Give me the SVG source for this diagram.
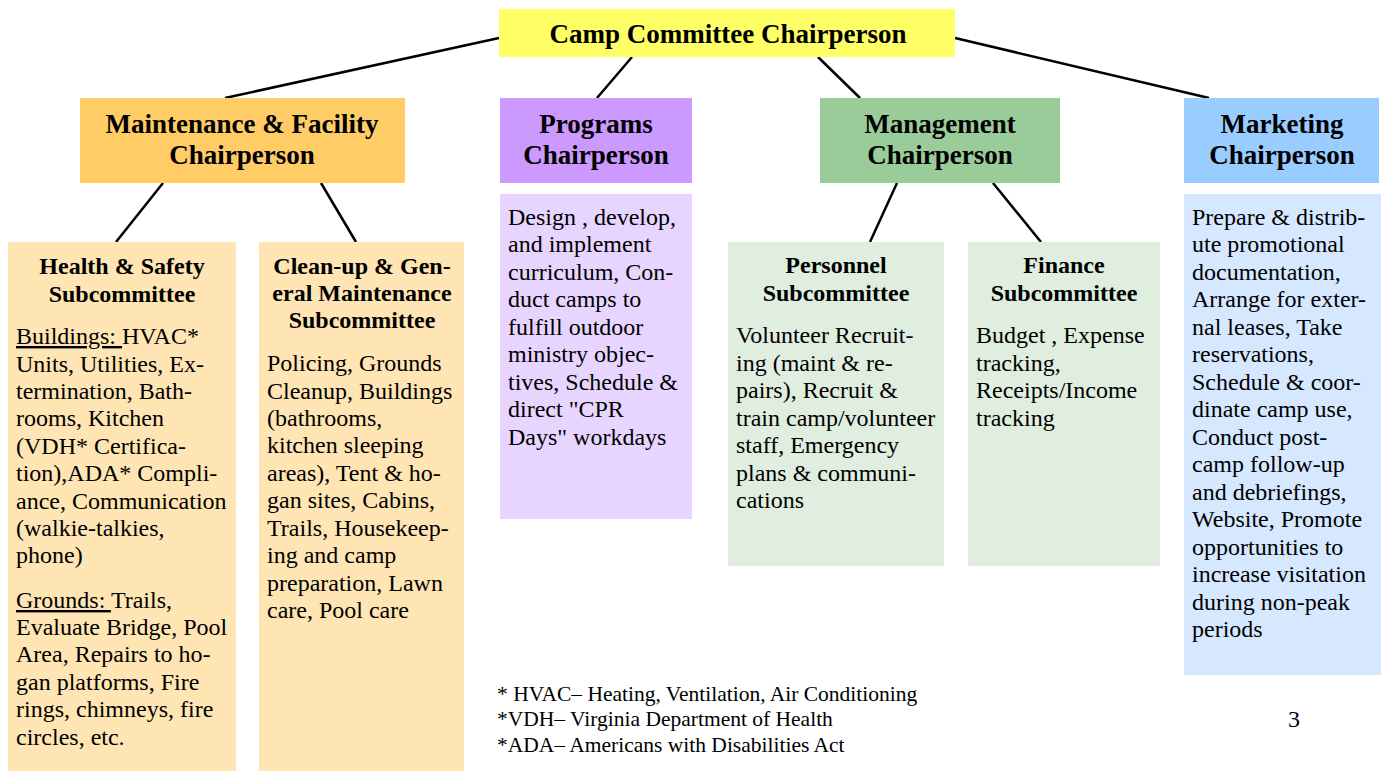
<svg xmlns="http://www.w3.org/2000/svg" width="1382" height="771" viewBox="0 0 1382 771">
<style>
text{font-family:"Liberation Serif","Times New Roman",serif;fill:#000}
.h1{font-size:27px;font-weight:bold;text-anchor:middle}
.h2{font-size:24px;font-weight:bold;text-anchor:middle}
.b{font-size:24px}
.fn{font-size:21.5px}
.u{text-decoration:underline}
.c{stroke:#000;stroke-width:2.5;fill:none}
</style>
<rect width="1382" height="771" fill="#fff"/>
<g id="connectors">
<line class="c" x1="499" y1="38" x2="225" y2="98"/>
<line class="c" x1="632" y1="57" x2="597" y2="98"/>
<line class="c" x1="818" y1="57" x2="860" y2="98"/>
<line class="c" x1="955" y1="38" x2="1209" y2="98"/>
<line class="c" x1="163" y1="183" x2="116" y2="242"/>
<line class="c" x1="321" y1="183" x2="356" y2="242"/>
<line class="c" x1="897" y1="183" x2="870" y2="242"/>
<line class="c" x1="993" y1="183" x2="1041" y2="242"/>
</g>
<g id="camp-committee">
<rect x="499" y="9" width="456" height="48" fill="#FFFF66"/>
<text class="h1" x="728" y="43">Camp Committee Chairperson</text>
</g>
<g id="maintenance">
<rect x="80" y="98" width="325" height="85" fill="#FFCC66"/>
<text class="h1" x="242" y="133">Maintenance &amp; Facility</text>
<text class="h1" x="242" y="164">Chairperson</text>
</g>
<g id="programs">
<rect x="500" y="98" width="192" height="85" fill="#CC99FF"/>
<text class="h1" x="596" y="133">Programs</text>
<text class="h1" x="596" y="164">Chairperson</text>
</g>
<g id="management">
<rect x="820" y="98" width="240" height="85" fill="#99CC99"/>
<text class="h1" x="940" y="133">Management</text>
<text class="h1" x="940" y="164">Chairperson</text>
</g>
<g id="marketing">
<rect x="1184" y="98" width="195" height="85" fill="#99CCFF"/>
<text class="h1" x="1282" y="133">Marketing</text>
<text class="h1" x="1282" y="164">Chairperson</text>
</g>
<g id="health-safety">
<rect x="8" y="242" width="228" height="529" fill="#FFE5B3"/>
<text class="h2" x="122" y="274">Health &amp; Safety</text>
<text class="h2" x="122" y="302">Subcommittee</text>
<text class="b" x="16" y="344"><tspan class="u">Buildings: </tspan>HVAC*</text>
<text class="b">
<tspan x="16" y="372">Units, Utilities, Ex-</tspan>
<tspan x="16" y="399">termination, Bath-</tspan>
<tspan x="16" y="426">rooms, Kitchen</tspan>
<tspan x="16" y="454">(VDH* Certifica-</tspan>
<tspan x="16" y="481">tion),ADA* Compli-</tspan>
<tspan x="16" y="509">ance, Communication</tspan>
<tspan x="16" y="536">(walkie-talkies,</tspan>
<tspan x="16" y="563">phone)</tspan>
</text>
<text class="b" x="16" y="608"><tspan class="u">Grounds: </tspan>Trails,</text>
<text class="b">
<tspan x="16" y="635">Evaluate Bridge, Pool</tspan>
<tspan x="16" y="662">Area, Repairs to ho-</tspan>
<tspan x="16" y="690">gan platforms, Fire</tspan>
<tspan x="16" y="717">rings, chimneys, fire</tspan>
<tspan x="16" y="745">circles, etc.</tspan>
</text>
</g>
<g id="cleanup">
<rect x="259" y="242" width="205" height="529" fill="#FFE5B3"/>
<text class="h2" x="362" y="274">Clean-up &amp; Gen-</text>
<text class="h2" x="362" y="301">eral Maintenance</text>
<text class="h2" x="362" y="328">Subcommittee</text>
<text class="b">
<tspan x="267" y="371">Policing, Grounds</tspan>
<tspan x="267" y="399">Cleanup, Buildings</tspan>
<tspan x="267" y="426">(bathrooms,</tspan>
<tspan x="267" y="453">kitchen sleeping</tspan>
<tspan x="267" y="481">areas), Tent &amp; ho-</tspan>
<tspan x="267" y="508">gan sites, Cabins,</tspan>
<tspan x="267" y="536">Trails, Housekeep-</tspan>
<tspan x="267" y="563">ing and camp</tspan>
<tspan x="267" y="591">preparation, Lawn</tspan>
<tspan x="267" y="618">care, Pool care</tspan>
</text>
</g>
<g id="programs-duties">
<rect x="500" y="194" width="192" height="325" fill="#E8D5FF"/>
<text class="b">
<tspan x="508" y="225">Design , develop,</tspan>
<tspan x="508" y="252">and implement</tspan>
<tspan x="508" y="280">curriculum, Con-</tspan>
<tspan x="508" y="307">duct camps to</tspan>
<tspan x="508" y="335">fulfill outdoor</tspan>
<tspan x="508" y="362">ministry objec-</tspan>
<tspan x="508" y="390">tives, Schedule &amp;</tspan>
<tspan x="508" y="417">direct "CPR</tspan>
<tspan x="508" y="445">Days" workdays</tspan>
</text>
</g>
<g id="personnel">
<rect x="728" y="242" width="216" height="324" fill="#DFEEDF"/>
<text class="h2" x="836" y="273">Personnel</text>
<text class="h2" x="836" y="301">Subcommittee</text>
<text class="b">
<tspan x="736" y="343">Volunteer Recruit-</tspan>
<tspan x="736" y="371">ing (maint &amp; re-</tspan>
<tspan x="736" y="398">pairs), Recruit &amp;</tspan>
<tspan x="736" y="426">train camp/volunteer</tspan>
<tspan x="736" y="453">staff, Emergency</tspan>
<tspan x="736" y="481">plans &amp; communi-</tspan>
<tspan x="736" y="508">cations</tspan>
</text>
</g>
<g id="finance">
<rect x="968" y="242" width="192" height="324" fill="#DFEEDF"/>
<text class="h2" x="1064" y="273">Finance</text>
<text class="h2" x="1064" y="301">Subcommittee</text>
<text class="b">
<tspan x="976" y="343">Budget , Expense</tspan>
<tspan x="976" y="371">tracking,</tspan>
<tspan x="976" y="398">Receipts/Income</tspan>
<tspan x="976" y="426">tracking</tspan>
</text>
</g>
<g id="marketing-duties">
<rect x="1184" y="194" width="197" height="481" fill="#D5E8FF"/>
<text class="b">
<tspan x="1192" y="225">Prepare &amp; distrib-</tspan>
<tspan x="1192" y="252">ute promotional</tspan>
<tspan x="1192" y="280">documentation,</tspan>
<tspan x="1192" y="307">Arrange for exter-</tspan>
<tspan x="1192" y="335">nal leases, Take</tspan>
<tspan x="1192" y="362">reservations,</tspan>
<tspan x="1192" y="390">Schedule &amp; coor-</tspan>
<tspan x="1192" y="417">dinate camp use,</tspan>
<tspan x="1192" y="445">Conduct post-</tspan>
<tspan x="1192" y="472">camp follow-up</tspan>
<tspan x="1192" y="500">and debriefings,</tspan>
<tspan x="1192" y="527">Website, Promote</tspan>
<tspan x="1192" y="555">opportunities to</tspan>
<tspan x="1192" y="582">increase visitation</tspan>
<tspan x="1192" y="610">during non-peak</tspan>
<tspan x="1192" y="637">periods</tspan>
</text>
</g>
<g id="footnotes">
<text class="fn">
<tspan x="497" y="701">* HVAC– Heating, Ventilation, Air Conditioning</tspan>
<tspan x="497" y="726">*VDH– Virginia Department of Health</tspan>
<tspan x="497" y="752">*ADA– Americans with Disabilities Act</tspan>
</text>
<text x="1294" y="727" style="font-size:24px;text-anchor:middle">3</text>
</g>
</svg>
